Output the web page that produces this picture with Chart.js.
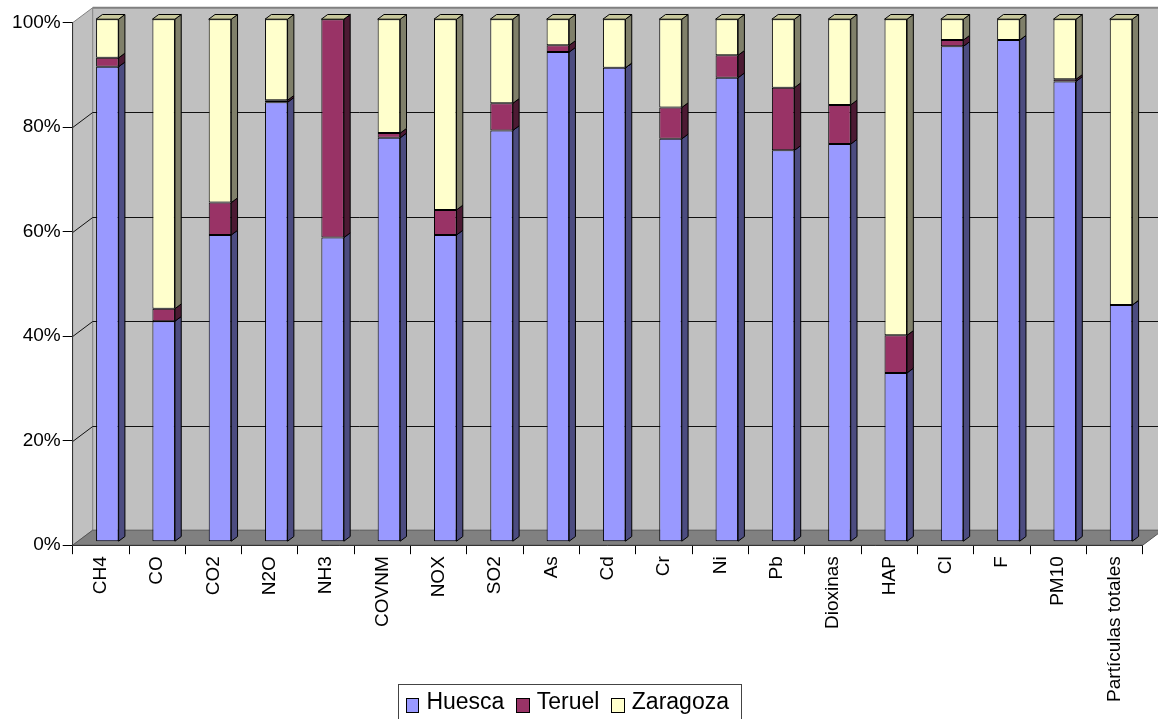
<!DOCTYPE html>
<html>
<head>
<meta charset="utf-8">
<script src="https://cdn.jsdelivr.net/npm/chart.js@4.4.1/dist/chart.umd.min.js"></script>
<style>
  html, body { margin: 0; padding: 0; background: #fff; overflow: hidden; }
  #wrap { position: relative; width: 1158px; height: 719px; }
  #legend { position: absolute; left: 398px; top: 684px; width: 344px; height: 42px; box-sizing: border-box;
            border: 1px solid #444; padding: 0 0 8px 7px; display: flex; align-items: center; white-space: nowrap;
            font-family: 'Liberation Sans', Arial, sans-serif; font-size: 23px; color: #000; }
  #legend .box { display: inline-block; width: 15px; height: 15px; box-sizing: border-box; border: 1px solid #000;
                 margin-right: 7px; position: relative; top: 4px; }
  #legend .txt { line-height: 23px; margin-right: 12px; }
</style>
</head>
<body>
<div id="wrap">
  <canvas id="chart" width="1158" height="719"></canvas>
  <div id="legend"></div>
</div>
<script>
// ---------------- Data ---------------------------------------------------
const categories = [ 'CH4', 'CO', 'CO2', 'N2O', 'NH3', 'COVNM', 'NOX', 'SO2', 'As', 'Cd',
                     'Cr', 'Ni', 'Pb', 'Dioxinas', 'HAP', 'Cl', 'F', 'PM10', 'Partículas totales' ] ;
const huesca   = [ 90.9, 42.2, 58.7, 84.1, 58.2, 77.3, 58.7, 78.7, 93.7, 90.7,
                   77.1, 88.8, 74.9, 76.1, 32.3, 94.8, 96.0, 88.1, 45.3 ] ;
const teruel   = [ 1.7, 2.4, 6.2, 0.4, 41.8, 0.9, 4.8, 5.2, 1.3, 0,
                   6.0, 4.3, 12.0, 7.5, 7.2, 1.2, 0, 0.4, 0 ] ;
const zaragoza = [ 7.4, 55.4, 35.1, 15.5, 0, 21.8, 36.5, 16.1, 5.0, 9.3,
                   16.9, 6.9, 13.1, 16.4, 60.5, 4.0, 4.0, 11.5, 54.7 ] ;
const seriesNames = [ 'Huesca', 'Teruel', 'Zaragoza' ] ;
const yTicks = [ 0, 20, 40, 60, 80, 100 ] ;

// ---------------- Look ---------------------------------------------------
const FONT = 'Liberation Sans, Arial, sans-serif' ;
const frontColors = [ '#9999ff', '#993366', '#ffffcc' ] ;
const sideColors  = [ '#4c4c80', '#4c1a33', '#80806a' ] ;
const topColors   = [ '#ccccff', '#cc6699', '#c8c89c' ] ;
const WALL  = { dx: 20, dy: -15 } ;    // depth of the box (floor / walls)
const SHIFT = { dx: 6.5, dy: -3.5 } ;  // where the bar fronts sit inside that depth
const BAR   = { dx: 6.3, dy: -4.7 } ;  // depth of one bar

function poly( ctx, pts, fill, stroke ) {
    ctx.beginPath() ;
    ctx.moveTo( pts[0][0], pts[0][1] ) ;
    for( let i = 1; i < pts.length; i++ ) ctx.lineTo( pts[i][0], pts[i][1] ) ;
    ctx.closePath() ;
    if( fill ) { ctx.fillStyle = fill ; ctx.fill() ; }
    if( stroke ) { ctx.strokeStyle = stroke ; ctx.stroke() ; }
}

// walls, floor and back grid lines, bars pushed into depth, bar sides/tops
const threeD = {
    id: 'threeD',
    beforeDraw( chart ) {
        const { ctx, chartArea: a, scales: { y } } = chart ;
        const L = a.left, R = a.right, T = a.top, B = a.bottom ;
        ctx.save() ;
        ctx.lineWidth = 1 ;
        // back wall
        poly( ctx, [ [L + WALL.dx, T + WALL.dy], [R + WALL.dx, T + WALL.dy],
                     [R + WALL.dx, B + WALL.dy], [L + WALL.dx, B + WALL.dy] ], '#c0c0c0', null ) ;
        // side wall
        poly( ctx, [ [L, T], [L + WALL.dx, T + WALL.dy], [L + WALL.dx, B + WALL.dy], [L, B] ], '#c0c0c0', '#808080' ) ;
        // floor
        poly( ctx, [ [L, B], [L + WALL.dx, B + WALL.dy], [R + WALL.dx, B + WALL.dy], [R, B] ], '#808080', '#555' ) ;
        // top edge of back wall
        ctx.lineWidth = 2 ;
        ctx.strokeStyle = '#808080' ;
        ctx.beginPath() ;
        ctx.moveTo( L + WALL.dx, T + WALL.dy ) ;
        ctx.lineTo( R + WALL.dx + 5, T + WALL.dy ) ;
        ctx.stroke() ;
        // grid lines, side wall then back wall
        ctx.lineWidth = 1 ;
        yTicks.forEach( v => {
            if( v <= 0 || v >= 100 ) return ;
            const py = Math.round( y.getPixelForValue( v ) ) + 0.5 ;
            ctx.strokeStyle = '#111' ;
            ctx.beginPath() ;
            ctx.moveTo( L, py ) ;
            ctx.lineTo( L + WALL.dx, py + WALL.dy ) ;
            ctx.lineTo( R + WALL.dx + 5, py + WALL.dy ) ;
            ctx.stroke() ;
        } ) ;
        ctx.restore() ;
    },
    beforeDatasetsDraw( chart ) {
        chart.ctx.save() ;
        chart.ctx.translate( SHIFT.dx, SHIFT.dy ) ;
    },
    afterDatasetsDraw( chart ) {
        const ctx = chart.ctx ;
        const n = chart.data.datasets.length ;
        ctx.lineWidth = 1 ;
        for( let di = 0; di < n; di++ ) {
            chart.getDatasetMeta( di ).data.forEach( bar => {
                const { x, y, base, width } = bar.getProps( [ 'x', 'y', 'base', 'width' ], true ) ;
                const xl = x - width / 2, xr = x + width / 2 ;
                poly( ctx, [ [xr, y], [xr + BAR.dx, y + BAR.dy], [xr + BAR.dx, base + BAR.dy], [xr, base] ],
                      sideColors[di], '#000' ) ;
                if( di === n - 1 ) {
                    poly( ctx, [ [xl, y], [xl + BAR.dx, y + BAR.dy], [xr + BAR.dx, y + BAR.dy], [xr, y] ],
                          topColors[di], '#000' ) ;
                }
            } ) ;
        }
        ctx.restore() ;
    }
} ;

const chart = new Chart( document.getElementById( 'chart' ).getContext( '2d' ), {
    type: 'bar',
    data: {
        labels: categories,
        datasets: [ huesca, teruel, zaragoza ].map( ( d, i ) => ( {
            label: seriesNames[i],
            data: d,
            backgroundColor: frontColors[i],
            borderColor: '#000',
            borderWidth: 1,
            borderSkipped: false,
            categoryPercentage: 1,
            barPercentage: 0.40,
            clip: false
        } ) )
    },
    options: {
        responsive: false,
        animation: false,
        devicePixelRatio: 1,
        layout: { padding: { left: 0, top: 22.7, right: 15.3, bottom: 0 } },
        plugins: {
            legend: { display: false },
            tooltip: { enabled: false }
        },
        scales: {
            x: {
                stacked: true,
                grid: { offset: true, drawOnChartArea: false, tickLength: 9, color: '#000' },
                border: { color: '#333' },
                ticks: { font: { family: FONT, size: 19 }, color: '#000', minRotation: 90, maxRotation: 90,
                         padding: 2, autoSkip: false },
                afterFit: s => { s.height = 173.8 ; }
            },
            y: {
                stacked: true,
                min: 0,
                max: 100,
                afterBuildTicks: s => { s.ticks = yTicks.map( v => ( { value: v } ) ) ; },
                grid: { drawOnChartArea: false, tickLength: 10, color: '#000' },
                border: { color: '#333' },
                ticks: { font: { family: FONT, size: 19 }, color: '#000', padding: 2, callback: v => v + '%' },
                afterFit: s => { s.width = 72.7 ; }
            }
        }
    },
    plugins: [ threeD ]
} ) ;

// legend, built from the same dataset colours and names
const legendEl = document.getElementById( 'legend' ) ;
chart.data.datasets.forEach( ds => {
    const box = document.createElement( 'span' ) ;
    box.className = 'box' ;
    box.style.background = ds.backgroundColor ;
    const txt = document.createElement( 'span' ) ;
    txt.className = 'txt' ;
    txt.textContent = ds.label ;
    legendEl.appendChild( box ) ;
    legendEl.appendChild( txt ) ;
} ) ;
</script>
</body>
</html>
